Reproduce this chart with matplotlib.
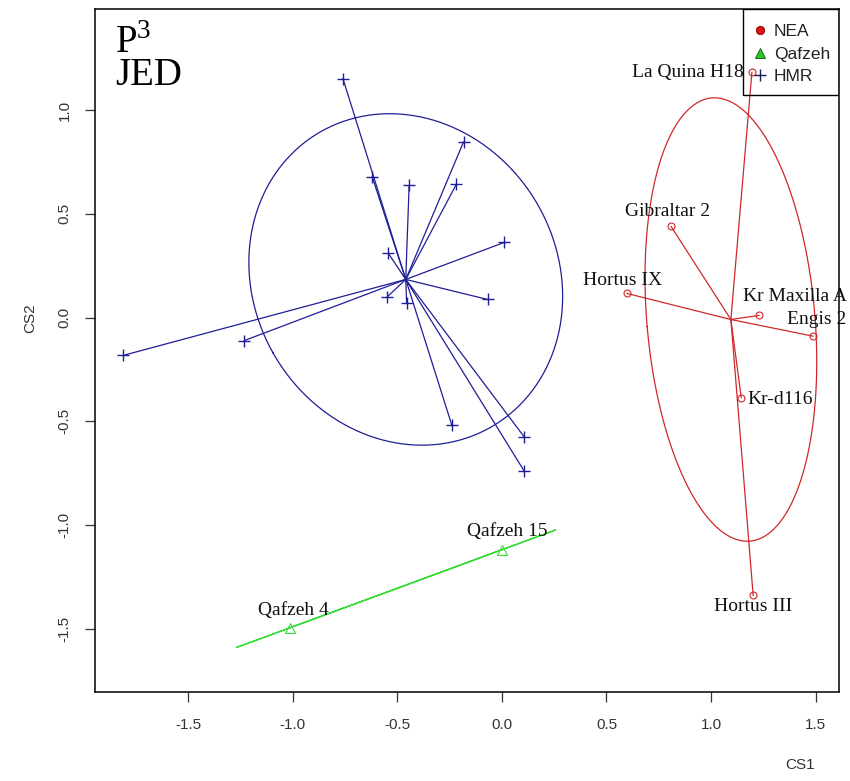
import numpy as np
import matplotlib
matplotlib.use("Agg")
import matplotlib.pyplot as plt
from matplotlib.lines import Line2D
from matplotlib.patches import Rectangle

# Coordonnées (CS1, CS2)
hmr_x = [-0.759, -0.619, -0.443, -0.183, -0.217, 0.011, -0.542, -0.547,
         -0.455, -0.068, -1.810, -1.230, -0.239, 0.107, 0.107]
hmr_y = [1.151, 0.677, 0.637, 0.847, 0.643, 0.362, 0.309, 0.100,
         0.071, 0.087, -0.183, -0.111, -0.519, -0.576, -0.741]

nea_noms = ["La Quina H18", "Gibraltar 2", "Hortus IX", "Kr Maxilla A",
            "Engis 2", "Kr-d116", "Hortus III"]
nea_x = [1.195, 0.809, 0.598, 1.228, 1.487, 1.144, 1.201]
nea_y = [1.183, 0.439, 0.116, 0.010, -0.090, -0.386, -1.340]

qaf_noms = ["Qafzeh 4", "Qafzeh 15"]
qaf_x = [-1.014, 0.003]
qaf_y = [-1.497, -1.119]

legende = ["NEA", "Qafzeh", "HMR"]
grad_x = [-1.5, -1.0, -0.5, 0.0, 0.5, 1.0, 1.5]
grad_y = [-1.5, -1.0, -0.5, 0.0, 0.5, 1.0]

bleu = "#1E1E96"
rouge = "#D02828"
vert = "#33DD33"

# placement des étiquettes (décalage en pixels, alignement)
place = {
    "La Quina H18": (-8, 0, "right"),
    "Gibraltar 2": (-4, 15, "center"),
    "Hortus IX": (-4, 13, "center"),
    "Kr Maxilla A": (-16, 19, "left"),
    "Engis 2": (4, 17, "center"),
    "Kr-d116": (6, -2, "left"),
    "Hortus III": (0, -11, "center"),
    "Qafzeh 4": (4, 17, "center"),
    "Qafzeh 15": (5, 18, "center"),
}

plt.rcParams["font.family"] = ["Liberation Sans", "DejaVu Sans"]
plt.rcParams["mathtext.fontset"] = "custom"
plt.rcParams["mathtext.rm"] = "Liberation Serif"


def ellipse(x, y, k=1.5, n=300):
    x = np.asarray(x)
    y = np.asarray(y)
    cov = np.cov(x, y, bias=True)
    val, vec = np.linalg.eigh(cov)
    t = np.linspace(0, 2 * np.pi, n)
    cercle = np.vstack([np.cos(t), np.sin(t)])
    pts = vec @ (np.sqrt(np.clip(val, 0, None))[:, None] * cercle) * k
    return x.mean() + pts[0], y.mean() + pts[1]


def groupe(ax, x, y, couleur, marqueur, ms, mew):
    cx, cy = np.mean(x), np.mean(y)
    ex, ey = ellipse(x, y)
    ax.plot(ex, ey, color=couleur, lw=0.9)
    for xi, yi in zip(x, y):
        ax.plot([cx, xi], [cy, yi], color=couleur, lw=0.9)
    ax.plot(x, y, linestyle="none", marker=marqueur, ms=ms, mew=mew,
            color=couleur, markerfacecolor="none")


fig = plt.figure(figsize=(8.5, 7.81), dpi=100)
ax = fig.add_axes([0.1118, 0.114, 0.8752, 0.8745])

groupe(ax, hmr_x, hmr_y, bleu, "+", 9, 1.0)
groupe(ax, nea_x, nea_y, rouge, "o", 5, 0.8)
groupe(ax, qaf_x, qaf_y, vert, "^", 7, 0.8)

for noms, xs, ys in [(nea_noms, nea_x, nea_y), (qaf_noms, qaf_x, qaf_y)]:
    for nom, xi, yi in zip(noms, xs, ys):
        dx, dy, ha = place[nom]
        ax.annotate(nom, (xi, yi), xytext=(dx, dy), textcoords="offset pixels",
                    ha=ha, va="center", fontsize=14, family="Liberation Serif",
                    color="#111111", annotation_clip=False)

ax.text(0.027, 0.9356, r"$\mathrm{P}^{3}$", transform=ax.transAxes,
        fontsize=28, va="baseline", ha="left")
ax.text(0.027, 0.889, "JED", transform=ax.transAxes, fontsize=28,
        family="Liberation Serif", va="baseline", ha="left")

# légende : cadre dessiné à part, entrées placées sans cadre
ax.add_patch(Rectangle((0.8706, 0.874), 0.1294, 0.126, transform=ax.transAxes,
                       fill=False, edgecolor="black", lw=1.0, zorder=5))
poignees = [
    Line2D([], [], linestyle="none", marker="o", ms=6, markerfacecolor="#E01010",
           markeredgecolor="#800000", mew=0.6),
    Line2D([], [], linestyle="none", marker="^", ms=7, markerfacecolor="#22CC22",
           markeredgecolor="#105010", mew=0.6),
    Line2D([], [], linestyle="none", marker="+", ms=9, color="#1A1A50", mew=1.0),
]
leg = ax.legend(poignees, legende, loc="upper left",
                bbox_to_anchor=(0.885, 0.978), borderaxespad=0, borderpad=0,
                frameon=False, prop={"family": "Liberation Sans", "size": 12.5},
                handlelength=0.76, handletextpad=0.42, labelspacing=0.42)
for t in leg.get_texts():
    t.set_color("#222222")

ax.set_xlim(-1.944, 1.611)
ax.set_ylim(-1.806, 1.488)
ax.set_xticks(grad_x)
ax.set_yticks(grad_y)
ax.set_xticklabels([f"{v:.1f}" for v in grad_x])
ax.set_yticklabels([f"{v:.1f}" for v in grad_y], rotation=90, va="center")
ax.tick_params(length=7, width=0.9, labelsize=11, colors="#333333")
ax.tick_params(axis="x", pad=12)
ax.tick_params(axis="y", pad=10)
for s in ax.spines.values():
    s.set_linewidth(1.1)

fig.text(800 / 850, 1 - 765 / 781, "CS1", ha="center", va="center",
         fontsize=11, color="#333333")
fig.text(30 / 850, 1 - 318 / 781, "CS2", ha="center", va="center",
         fontsize=11, color="#333333", rotation=90)

fig.savefig("out.png", dpi=100)
